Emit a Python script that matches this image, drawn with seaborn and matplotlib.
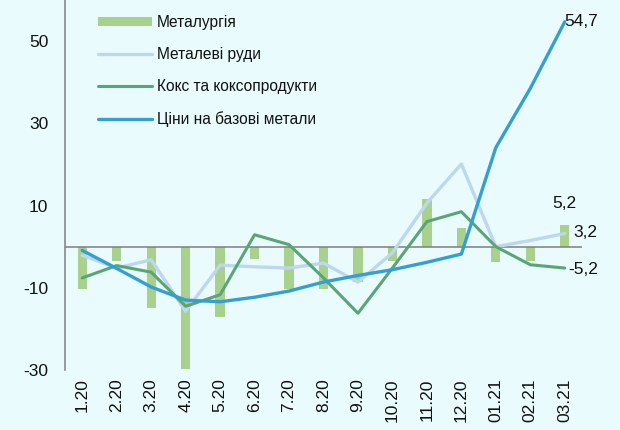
import numpy as np
import pandas as pd
import matplotlib
matplotlib.use("Agg")
import matplotlib.pyplot as plt
import seaborn as sns
from matplotlib.patches import Patch
from matplotlib.lines import Line2D

months = ["1.20", "2.20", "3.20", "4.20", "5.20", "6.20", "7.20", "8.20", "9.20",
          "10.20", "11.20", "12.20", "01.21", "02.21", "03.21"]
metallurgy = [-10.2, -3.6, -14.9, -29.8, -17.1, -3.0, -10.2, -10.3, -8.6, -3.6, 11.6, 4.6, -3.8, -3.4, 5.2]
metal_ores = [-2.1, -5.2, -3.2, -15.7, -4.5, -4.9, -5.2, -4.0, -8.6, -1.5, 10.6, 20.1, 0.0, 1.5, 3.2]
coke = [-7.6, -4.6, -6.2, -14.5, -11.7, 2.9, 0.5, -7.6, -16.2, -5.2, 6.1, 8.5, 0.0, -4.4, -5.2]
base_metals = [-0.9, -5.3, -9.8, -13.0, -13.4, -12.3, -10.8, -8.6, -7.0, -5.6, -3.8, -1.8, 24.1, 38.5, 54.7]

names = ["Металургія", "Металеві руди", "Кокс та коксопродукти", "Ціни на базові метали"]
yticks = [-30, -10, 10, 30, 50]

bg = "#e9fbfd"
c_bar = "#a9d18e"
c_ores = "#bdd7ee"
c_coke = "#5aa575"
c_base = "#35a0d0"

sns.set_theme(style="white")
plt.rcParams["font.family"] = ["Liberation Sans", "DejaVu Sans"]

fig = plt.figure(figsize=(6.2, 4.3), dpi=100, facecolor=bg)
ax = fig.add_axes([65 / 620, 1 - 370 / 430, (582 - 65) / 620, 370 / 430])
ax.set_facecolor(bg)

df = pd.DataFrame({"month": months, "x": np.arange(len(months)),
                   "metallurgy": metallurgy, "ores": metal_ores,
                   "coke": coke, "base": base_metals})

sns.barplot(data=df, x="month", y="metallurgy", color=c_bar, width=0.27,
            saturation=1, ax=ax, zorder=1, linewidth=0)
ax.axhline(0, color="#7f7f7f", lw=1.1, zorder=2)
sns.lineplot(data=df, x="x", y="ores", color=c_ores, lw=2.4, ax=ax, zorder=3, sort=False)
sns.lineplot(data=df, x="x", y="coke", color=c_coke, lw=2.2, ax=ax, zorder=4, sort=False)
sns.lineplot(data=df, x="x", y="base", color=c_base, lw=2.4, ax=ax, zorder=5, sort=False)

ax.set_xlim(-0.5, len(months) - 0.5)
ax.set_ylim(-30, 60)
ax.set_yticks(yticks)
ax.set_yticklabels([str(v) for v in yticks], fontsize=12.5, color="#111111")
ax.set_xticks(np.arange(len(months)))
ax.set_xticklabels(months, rotation=90, fontsize=12.5, color="#111111")
ax.tick_params(axis="y", length=0, pad=12)
ax.tick_params(axis="x", length=0, pad=6)
ax.set_xlabel("")
ax.set_ylabel("")
for s in ["top", "right", "bottom"]:
    ax.spines[s].set_visible(False)
ax.spines["left"].set_color("#7f7f7f")
ax.spines["left"].set_linewidth(1.1)

last = len(months) - 1
ax.annotate("54,7", (last, base_metals[-1]), xytext=(0, 0), textcoords="offset pixels",
            ha="left", va="center", fontsize=12.5, color="#111111")
ax.annotate("5,2", (last, metallurgy[-1]), xytext=(0, 22), textcoords="offset pixels",
            ha="center", va="center", fontsize=12.5, color="#111111")
ax.annotate("3,2", (last, metal_ores[-1]), xytext=(9, 1), textcoords="offset pixels",
            ha="left", va="center", fontsize=12.5, color="#111111")
ax.annotate("-5,2", (last, coke[-1]), xytext=(3, -1), textcoords="offset pixels",
            ha="left", va="center", fontsize=12.5, color="#111111")

handles = [Patch(facecolor=c_bar, edgecolor="none"),
           Line2D([], [], color=c_ores, lw=2.4),
           Line2D([], [], color=c_coke, lw=2.2),
           Line2D([], [], color=c_base, lw=2.4)]
leg = fig.legend(handles, names, loc="upper left", bbox_to_anchor=(98 / 620, 1 - 15 / 430),
                 frameon=False, fontsize=11.2, handlelength=3.45, handleheight=0.57,
                 handletextpad=0.35, labelspacing=1.09, borderpad=0, borderaxespad=0)
for t in leg.get_texts():
    t.set_color("#111111")

fig.savefig("out.png", dpi=100, facecolor=bg)
